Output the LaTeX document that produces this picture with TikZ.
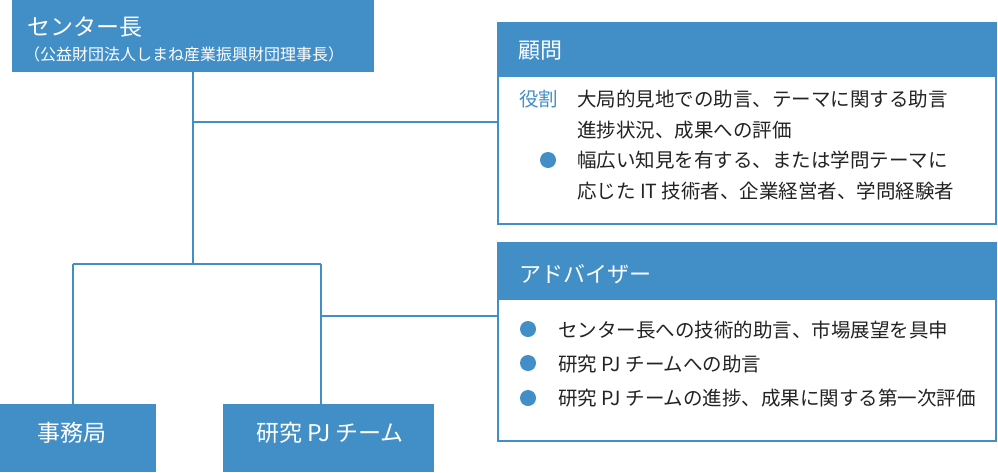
\documentclass[tikz,border=0pt]{standalone}
\usepackage{fontspec}
\setmainfont{Noto Sans CJK JP}
\definecolor{blu}{RGB}{66,143,200}
\definecolor{ink}{RGB}{35,35,35}
\begin{document}
\begin{tikzpicture}[x=1pt,y=-1pt,
  solid box/.style={fill=blu, draw=none, inner sep=0pt},
  frame box/.style={draw=blu, line width=2pt, fill=white, inner sep=0pt},
  head text/.style={anchor=west, inner sep=0pt, text=white, font=\fontsize{22pt}{26pt}\selectfont},
  body text/.style={anchor=west, inner sep=0pt, text=ink, font=\fontsize{19.5pt}{23pt}\selectfont},
  dot/.style={circle, fill=blu, inner sep=0pt, minimum size=16pt},
  link/.style={draw=blu, line width=2.5pt}
]
\useasboundingbox (0,0) rectangle (998,472);

\node[solid box, minimum width=362pt, minimum height=72pt] (ctr) at (193,36) {};
\node[frame box, minimum width=498pt, minimum height=201pt] (komon) at (747,123) {};
\node[frame box, minimum width=498pt, minimum height=198pt] (adv) at (747,342) {};
\node[solid box, minimum width=156pt, minimum height=68pt] (jimu) at (78,438) {};
\node[solid box, minimum width=211pt, minimum height=68pt] (pj) at (328.5,438) {};

\coordinate (j1) at (193,122);
\coordinate (j2) at (193,264);
\coordinate (jl) at (73,264);
\coordinate (jr) at (321,264);
\coordinate (j3) at (321,316);

\draw[link] (ctr.south) -- (j2);
\draw[link] (j1) -- (komon.west |- j1);
\draw[link] (jl) -- (jr);
\draw[link] (jl) -- (jl |- jimu.north);
\draw[link] (jr) -- (jr |- pj.north);
\draw[link] (j3) -- (adv.west |- j3);

% redraw boxes over the connectors
\node[solid box, minimum width=362pt, minimum height=72pt] at (ctr) {};
\node[frame box, minimum width=498pt, minimum height=201pt] at (komon) {};
\node[frame box, minimum width=498pt, minimum height=198pt] at (adv) {};

% headers
\node[solid box, anchor=north west, minimum width=500pt, minimum height=55pt] (komonhead) at (497,21.5) {};
\node[solid box, anchor=north west, minimum width=500pt, minimum height=57pt] (advhead) at (497,243) {};

% texts
\node[head text, font=\fontsize{23pt}{27pt}\selectfont] (ctrtitle) at (27,27) {センター長};
\node[head text, font=\fontsize{16pt}{19pt}\selectfont] (ctrsub) at (24,54) {（公益財団法人しまね産業振興財団理事長）};

\node[head text] (komontitle) at (518,51) {顧問};
\node[body text, text=blu] (role) at (519,99) {役割};
\node[body text] (k1) at (577,99) {大局的見地での助言、テーマに関する助言};
\node[body text] (k2) at (577,130) {進捗状況、成果への評価};
\node[dot] (kd) at (548,160) {};
\node[body text] (k3) at (577,160) {幅広い知見を有する、または学問テーマに};
\node[body text] (k4) at (577,191) {応じた IT 技術者、企業経営者、学問経験者};

\node[head text] (advtitle) at (519,274) {アドバイザー};
\node[dot] (ad1) at (528,329) {};
\node[body text] (a1) at (558,330) {センター長への技術的助言、市場展望を具申};
\node[dot] (ad2) at (528,363) {};
\node[body text] (a2) at (558,364) {研究 PJ チームへの助言};
\node[dot] (ad3) at (528,398) {};
\node[body text] (a3) at (558,398) {研究 PJ チームの進捗、成果に関する第一次評価};

\node[head text, anchor=center, font=\fontsize{23pt}{27pt}\selectfont] (jimutext) at (72,433) {事務局};
\node[head text, anchor=center, font=\fontsize{23pt}{27pt}\selectfont] (pjtext) at (330,433) {研究 PJ チーム};
\end{tikzpicture}
\end{document}
